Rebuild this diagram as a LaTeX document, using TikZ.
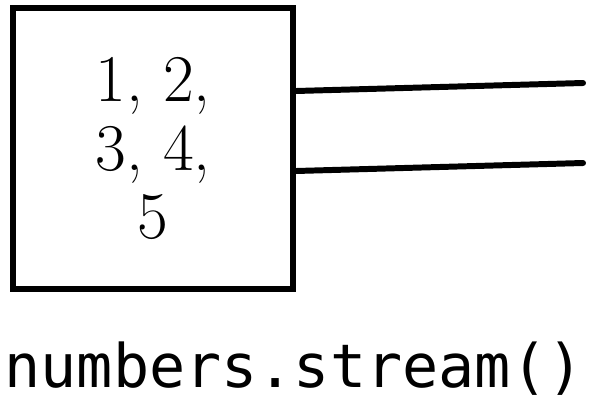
\documentclass[tikz,border=0pt]{standalone}
\usepackage{fontspec}
\newfontfamily\codefont{DejaVu Sans Mono}
\begin{document}
\begin{tikzpicture}[scale=0.1, every node/.style={font=\fontsize{19}{19.6}\selectfont}]
\tikzstyle{every node}+=[inner sep=0pt]
\useasboundingbox (0,0) rectangle (59.1,-41.1);
\node [draw=black, line width=1.7pt, minimum width=28mm, minimum height=28.1mm, align=center] (nums) at (15.3,-14.85) {1, 2,\\3, 4,\\5};
\coordinate (out1) at (58.3,-8.3);
\coordinate (out2) at (58.3,-16.3);
\draw [black, line width=1.7pt, line cap=round] (nums.east) ++(0,5.75) -- (out1);
\draw [black, line width=1.7pt, line cap=round] (nums.east) ++(0,-2.25) -- (out2);
\node [anchor=base, font=\codefont\fontsize{17.1}{18}\selectfont] (call) at (29.4,-38.8) {numbers.stream()};
\end{tikzpicture}
\end{document}
